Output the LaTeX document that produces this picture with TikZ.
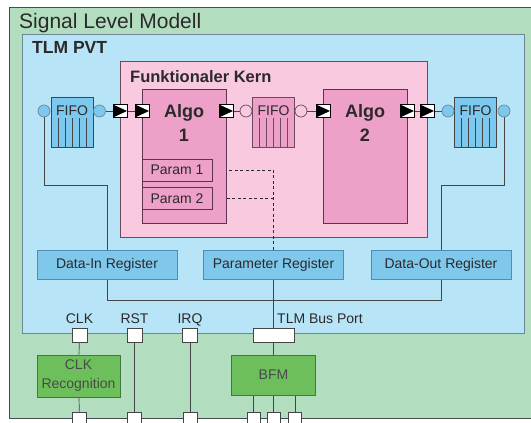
\documentclass[tikz,border=0pt]{standalone}
\usepackage{fontspec}
\setmainfont{Liberation Sans}
\usetikzlibrary{calc,arrows}

\definecolor{GreenBg}{HTML}{B3DDBF}
\definecolor{BlueBg}{HTML}{B8E4F8}
\definecolor{PinkBg}{HTML}{F8C9DF}
\definecolor{AlgoPink}{HTML}{EDA0C8}
\definecolor{FifoBlue}{HTML}{7CC8EE}
\definecolor{RegBlue}{HTML}{7FC8EC}
\definecolor{BoxGreen}{HTML}{6CBF5B}
\definecolor{OuterLine}{HTML}{4A4A4A}
\definecolor{PvtLine}{HTML}{6E8794}
\definecolor{KernLine}{HTML}{6A4A5C}
\definecolor{AlgoLine}{HTML}{5E3350}
\definecolor{RegLine}{HTML}{4F8DB3}
\definecolor{GreenLine}{HTML}{3F7A3A}
\definecolor{WireGray}{HTML}{454545}
\definecolor{TextGray}{HTML}{2A2A2A}

\pgfdeclarelayer{back}
\pgfdeclarelayer{wires}
\pgfsetlayers{back,wires,main}

\tikzset{
  FrameStyle/.style = { rectangle, line width=0.8pt, inner sep=0pt },
  TitleStyle/.style = { inner sep=0pt, text=TextGray },
  AlgoStyle/.style  = { rectangle, draw=AlgoLine, fill=AlgoPink, line width=0.8pt,
                        inner sep=0pt, minimum width=84, minimum height=134 },
  AlgoText/.style   = { anchor=base, inner sep=0pt, text=TextGray,
                        font=\fontsize{18}{21}\selectfont\bfseries },
  ParamStyle/.style = { rectangle, draw=AlgoLine, fill=AlgoPink, line width=0.6pt,
                        inner sep=0pt, minimum width=70, minimum height=22,
                        text=TextGray, font=\fontsize{14}{16}\selectfont },
  FifoStyle/.style  = { rectangle, draw=#1, line width=0.7pt, inner sep=0pt,
                        minimum width=42, minimum height=50,
                        label={[anchor=center, yshift=-14pt, inner sep=0pt, text=TextGray,
                                font=\fontsize{14}{16}\selectfont]north:FIFO},
                        path picture={
                          \foreach \i in {1,...,5}
                            \draw[#1, line width=0.7pt]
                              ($(path picture bounding box.south west)+(\i*7pt,0)$) --
                              ($(path picture bounding box.north west)+(\i*7pt,-21pt)$);
                        } },
  CircStyle/.style  = { circle, line width=0.7pt, minimum size=12, inner sep=0pt },
  PortStyle/.style  = { rectangle, draw=black, fill=white, line width=0.6pt,
                        minimum width=14, minimum height=13, inner sep=0pt,
                        path picture={
                          \fill[black] (path picture bounding box.north west) --
                            (path picture bounding box.east) --
                            (path picture bounding box.south west) -- cycle;
                        } },
  RegStyle/.style   = { rectangle, draw=RegLine, fill=RegBlue, line width=0.7pt,
                        inner sep=0pt, minimum width=140, minimum height=29,
                        text=TextGray, font=\fontsize{14}{16}\selectfont },
  PinStyle/.style   = { rectangle, draw=WireGray, fill=white, line width=0.7pt,
                        minimum width=15, minimum height=14, inner sep=0pt },
  PinLabel/.style   = { anchor=base, inner sep=0pt, text=TextGray,
                        font=\fontsize{14}{16}\selectfont },
  GreenStyle/.style = { rectangle, draw=GreenLine, fill=BoxGreen, line width=0.7pt,
                        inner sep=0pt, align=center, text=TextGray!85,
                        font=\fontsize{14}{19}\selectfont },
  WireStyle/.style  = { draw=WireGray, line width=0.7pt },
  ParamLink/.style  = { ->, >=stealth, draw=TextGray, line width=0.7pt,
                        dash pattern=on 3pt off 2.5pt }
}

\begin{document}
\begin{tikzpicture}[x=1pt, y=-1pt]
  \useasboundingbox (0,0) rectangle (531,423);

  \begin{pgfonlayer}{back}
  \node[FrameStyle, draw=OuterLine, fill=GreenBg, minimum width=526, minimum height=411] (slm) at (272,212.5) {};
  \node[FrameStyle, draw=PvtLine, fill=BlueBg, minimum width=502, minimum height=299] (pvt) at (273,183.5) {};
  \node[FrameStyle, draw=KernLine, fill=PinkBg, minimum width=307, minimum height=176] (kern) at (273.5,149) {};
  \end{pgfonlayer}

  \node[TitleStyle, anchor=base west, font=\fontsize{21}{25}\selectfont] (slmTitle) at (19,28) {Signal Level Modell};
  \node[TitleStyle, anchor=base west, font=\fontsize{17.5}{21}\selectfont\bfseries] (pvtTitle) at (32,53) {TLM PVT};
  \node[TitleStyle, anchor=base west, font=\fontsize{16.5}{20}\selectfont\bfseries] (kernTitle) at (130,82) {Funktionaler Kern};

  % algorithms
  \node[AlgoStyle] (algoA) at (184,156) {};
  \node[AlgoText] (algoAName) at (184,117) {Algo};
  \node[AlgoText] (algoANum) at (184,141) {1};
  \node[AlgoStyle] (algoB) at (365,156) {};
  \node[AlgoText] (algoBName) at (365,117) {Algo};
  \node[AlgoText] (algoBNum) at (365,141) {2};

  \node[ParamStyle] (paramA) at (177,170) {Param 1};
  \node[ParamStyle] (paramB) at (177,198.5) {Param 2};

  % fifos
  \node[FifoStyle=WireGray, fill=FifoBlue] (fifoL) at (72,122) {};
  \node[FifoStyle=KernLine, fill=AlgoPink] (fifoM) at (273.5,122) {};
  \node[FifoStyle=WireGray, fill=FifoBlue] (fifoR) at (475.5,122) {};

  \node[CircStyle, draw=PvtLine, fill=FifoBlue] (inL) at (44,111) {};
  \node[CircStyle, draw=PvtLine, fill=FifoBlue] (outL) at (99.5,111) {};
  \node[CircStyle, draw=KernLine, fill=PinkBg] (inM) at (246,111) {};
  \node[CircStyle, draw=KernLine, fill=PinkBg] (outM) at (301,111) {};
  \node[CircStyle, draw=PvtLine, fill=FifoBlue] (inR) at (448,111) {};
  \node[CircStyle, draw=PvtLine, fill=FifoBlue] (outR) at (504,111) {};

  \node[PortStyle] (pKernIn) at (120,111) {};
  \node[PortStyle] (pAlgoAIn) at (142,111) {};
  \node[PortStyle] (pAlgoAOut) at (226,111) {};
  \node[PortStyle] (pAlgoBIn) at (323,111) {};
  \node[PortStyle] (pAlgoBOut) at (407,111) {};
  \node[PortStyle] (pKernOut) at (427,111) {};

  % registers
  \node[RegStyle] (regIn) at (107,264.5) {Data-In Register};
  \node[RegStyle] (regPar) at (273.5,264.5) {Parameter Register};
  \node[RegStyle] (regOut) at (441,264.5) {Data-Out Register};

  % pins of the TLM PVT
  \node[PinStyle] (clkPin) at (79.5,335) {};
  \node[PinStyle] (rstPin) at (134.5,335) {};
  \node[PinStyle] (irqPin) at (190,335) {};
  \node[PinStyle, minimum width=41] (busPort) at (273.5,335) {};
  \node[PinLabel] (clkName) at (79.5,323) {CLK};
  \node[PinLabel] (rstName) at (134.5,323) {RST};
  \node[PinLabel] (irqName) at (190,323) {IRQ};
  \node[PinLabel, anchor=base west] (busName) at (277,323) {TLM Bus Port};

  \node[GreenStyle, minimum width=83, minimum height=42] (clkRec) at (78.5,376) {CLK\\Recognition};
  \node[GreenStyle, minimum width=84, minimum height=40] (bfm) at (273.5,375) {BFM};

  % pins of the signal level model
  \node[PinStyle, minimum width=14] (clkOut) at (79.5,419) {};
  \node[PinStyle, minimum width=14] (rstOut) at (134.5,419) {};
  \node[PinStyle, minimum width=14] (irqOut) at (190,419) {};
  \node[PinStyle, minimum width=13] (bfmOutA) at (253.5,419) {};
  \node[PinStyle, minimum width=13] (bfmOutB) at (273.5,419) {};
  \node[PinStyle, minimum width=13] (bfmOutC) at (295,419) {};

  \coordinate (tapIn) at (107,185);
  \coordinate (tapOut) at (441,185);
  \coordinate (busL) at (107,300);
  \coordinate (busR) at (441,300);

  \begin{pgfonlayer}{wires}
  \draw[WireStyle] (outL) -- (pKernIn) -- (pAlgoAIn);
  \draw[WireStyle] (pAlgoAOut) -- (inM);
  \draw[WireStyle] (outM) -- (pAlgoBIn);
  \draw[WireStyle] (pAlgoBOut) -- (pKernOut) -- (inR);
  \draw[WireStyle] (inL.south) |- (tapIn) -- (busL) -- (busR) -- (tapOut) -| (outR.south);
  \draw[WireStyle] (regPar) -- (busPort) -- (bfm);
  \draw[ParamLink] (regPar.north) -- (regPar.north |- paramA.east) -- (paramA.east);
  \draw[ParamLink] (regPar.north |- paramB.east) -- (paramB.east);
  \draw[WireStyle] (clkPin) -- (clkRec) -- (clkOut);
  \draw[WireStyle] (rstPin) -- (rstOut);
  \draw[WireStyle] (irqPin) -- (irqOut);
  \draw[WireStyle] (bfmOutA |- bfm.south) -- (bfmOutA);
  \draw[WireStyle] (bfm) -- (bfmOutB);
  \draw[WireStyle] (bfmOutC |- bfm.south) -- (bfmOutC);
  \end{pgfonlayer}
\end{tikzpicture}
\end{document}
